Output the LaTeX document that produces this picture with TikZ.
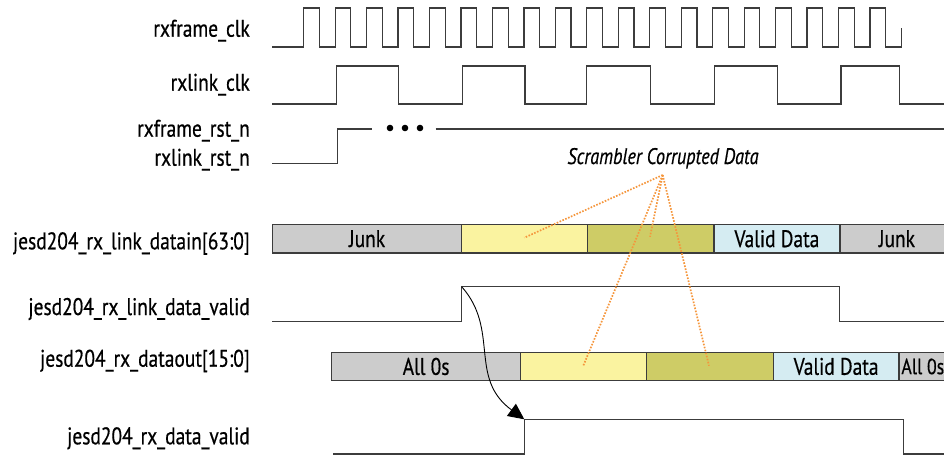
\documentclass[tikz,border=0pt]{standalone}
\usepackage{fontspec}
\setmainfont{PT Sans}[FakeStretch=0.81,FakeBold=0.5]
\usetikzlibrary{arrows.meta}
\definecolor{cgray}{RGB}{204,204,204}
\definecolor{cyel}{RGB}{250,243,160}
\definecolor{colive}{RGB}{206,204,102}
\definecolor{cblue}{RGB}{213,236,242}
\definecolor{corange}{RGB}{245,150,60}
\definecolor{cline}{RGB}{60,60,60}
\begin{document}
\begin{tikzpicture}[x=1pt,y=-1pt,
  lbl/.style={anchor=base east,inner sep=0pt,font=\fontsize{24}{26}\selectfont},
  wave/.style={draw=cline,line width=1.2pt},
  busseg/.style={draw=cline,line width=1.2pt,minimum height=28.3pt,inner sep=0pt,anchor=north west,font=\fontsize{24}{26}\selectfont},
  scrdot/.style={draw=corange,line width=1.7pt,dash pattern=on 1.6pt off 1.5pt},
  arrowline/.style={draw=black,line width=0.9pt,-{Triangle[length=16pt,width=15pt]}}]
\useasboundingbox (0,0) rectangle (944,455);

% labels
\node[lbl] (l1) at (250,36.7) {rxframe\_clk};
\node[lbl] (l2) at (250,90.7) {rxlink\_clk};
\node[lbl] (l3) at (250,136.7) {rxframe\_rst\_n};
\node[lbl] (l4) at (250,165.7) {rxlink\_rst\_n};
\node[lbl] (l5) at (250,249.3) {jesd204\_rx\_link\_datain[63:0]};
\node[lbl] (l6) at (250,315) {jesd204\_rx\_link\_data\_valid};
\node[lbl] (l7) at (250,366.7) {jesd204\_rx\_dataout[15:0]};
\node[lbl] (l8) at (250,444.3) {jesd204\_rx\_data\_valid};

% rxframe_clk
\draw[wave] (272,47) \foreach \k in {0,...,18} {
  -- ({303.7+31.46*\k},47) -- ({303.7+31.46*\k},8) -- ({319.4+31.46*\k},8) -- ({319.4+31.46*\k},47) }
  -- (901.7,47) -- (901.7,28);

% rxlink_clk
\draw[wave] (272,104) -- (336.7,104) -- (336.7,66) -- (398.3,66) -- (398.3,104)
  -- (462.3,104) -- (462.3,66) -- (525,66) -- (525,104) -- (586.7,104) -- (586.7,66)
  -- (650.7,66) -- (650.7,104) -- (714.3,104) -- (714.3,66) -- (777.3,66) -- (777.3,104)
  -- (841,104) -- (841,66) -- (899.3,66) -- (899.3,104) -- (944,104);

% reset
\draw[wave] (272,163.3) -- (337.3,163.3) -- (337.3,129) -- (371.7,129);
\fill[black] (390,128) circle (3.3pt) (405,128) circle (3.3pt) (420,128) circle (3.3pt);
\draw[wave] (435.7,129) -- (944,129);

% datain bus
\node[busseg,fill=cgray,minimum width=189pt] (d1) at (272,224) {Junk};
\node[busseg,fill=cyel,minimum width=125.7pt] (d2) at (461,224) {};
\node[busseg,fill=colive,minimum width=126.6pt] (d3) at (586.7,224) {};
\node[busseg,fill=cblue,minimum width=126pt] (d4) at (713.3,224) {Valid Data};
\node[busseg,fill=cgray,minimum width=110pt] (d5) at (839.3,224) {\makebox[106pt][l]{\hspace*{37pt}Junk}};

% link data valid
\draw[wave] (272,321.7) -- (461.7,321.7) -- (461.7,286.7) coordinate (lvrise) -- (839.3,286.7) -- (839.3,321.7) -- (944,321.7);

% dataout bus
\node[busseg,fill=cgray,minimum width=189pt] (o1) at (331,351.7) {All 0s};
\node[busseg,fill=cyel,minimum width=125.7pt] (o2) at (520,351.7) {};
\node[busseg,fill=colive,minimum width=127pt] (o3) at (645.7,351.7) {};
\node[busseg,fill=cblue,minimum width=125.6pt] (o4) at (772.7,351.7) {Valid Data};
\node[busseg,fill=cgray,minimum width=50pt] (o5) at (898.3,351.7) {\makebox[46pt][l]{\hspace*{0.5pt}\fontsize{22}{24}\selectfont All 0s}};

% data valid
\draw[wave] (333.3,454) -- (524.3,454) -- (524.3,419.3) coordinate (dvrise) -- (903.3,419.3) -- (903.3,454) -- (944,454);

% arrow
\draw[arrowline] (lvrise) .. controls (500,330) and (468,378) .. (dvrise);

% scrambler annotation
\node[anchor=base,inner sep=0pt,font=\fontsize{22.5}{24}\selectfont\itshape] (scr) at (663,164) {Scrambler Corrupted Data};
\coordinate (src) at (662.7,175);
\coordinate (a1) at (524.3,237.7);
\coordinate (a2) at (650,236.7);
\coordinate (a3) at (583.3,365.7);
\coordinate (a4) at (709,365.7);
\draw[scrdot] (src) -- (a1);
\draw[scrdot] (src) -- (a2);
\draw[scrdot] (src) -- (a3);
\draw[scrdot] (src) -- (a4);
\end{tikzpicture}
\end{document}
